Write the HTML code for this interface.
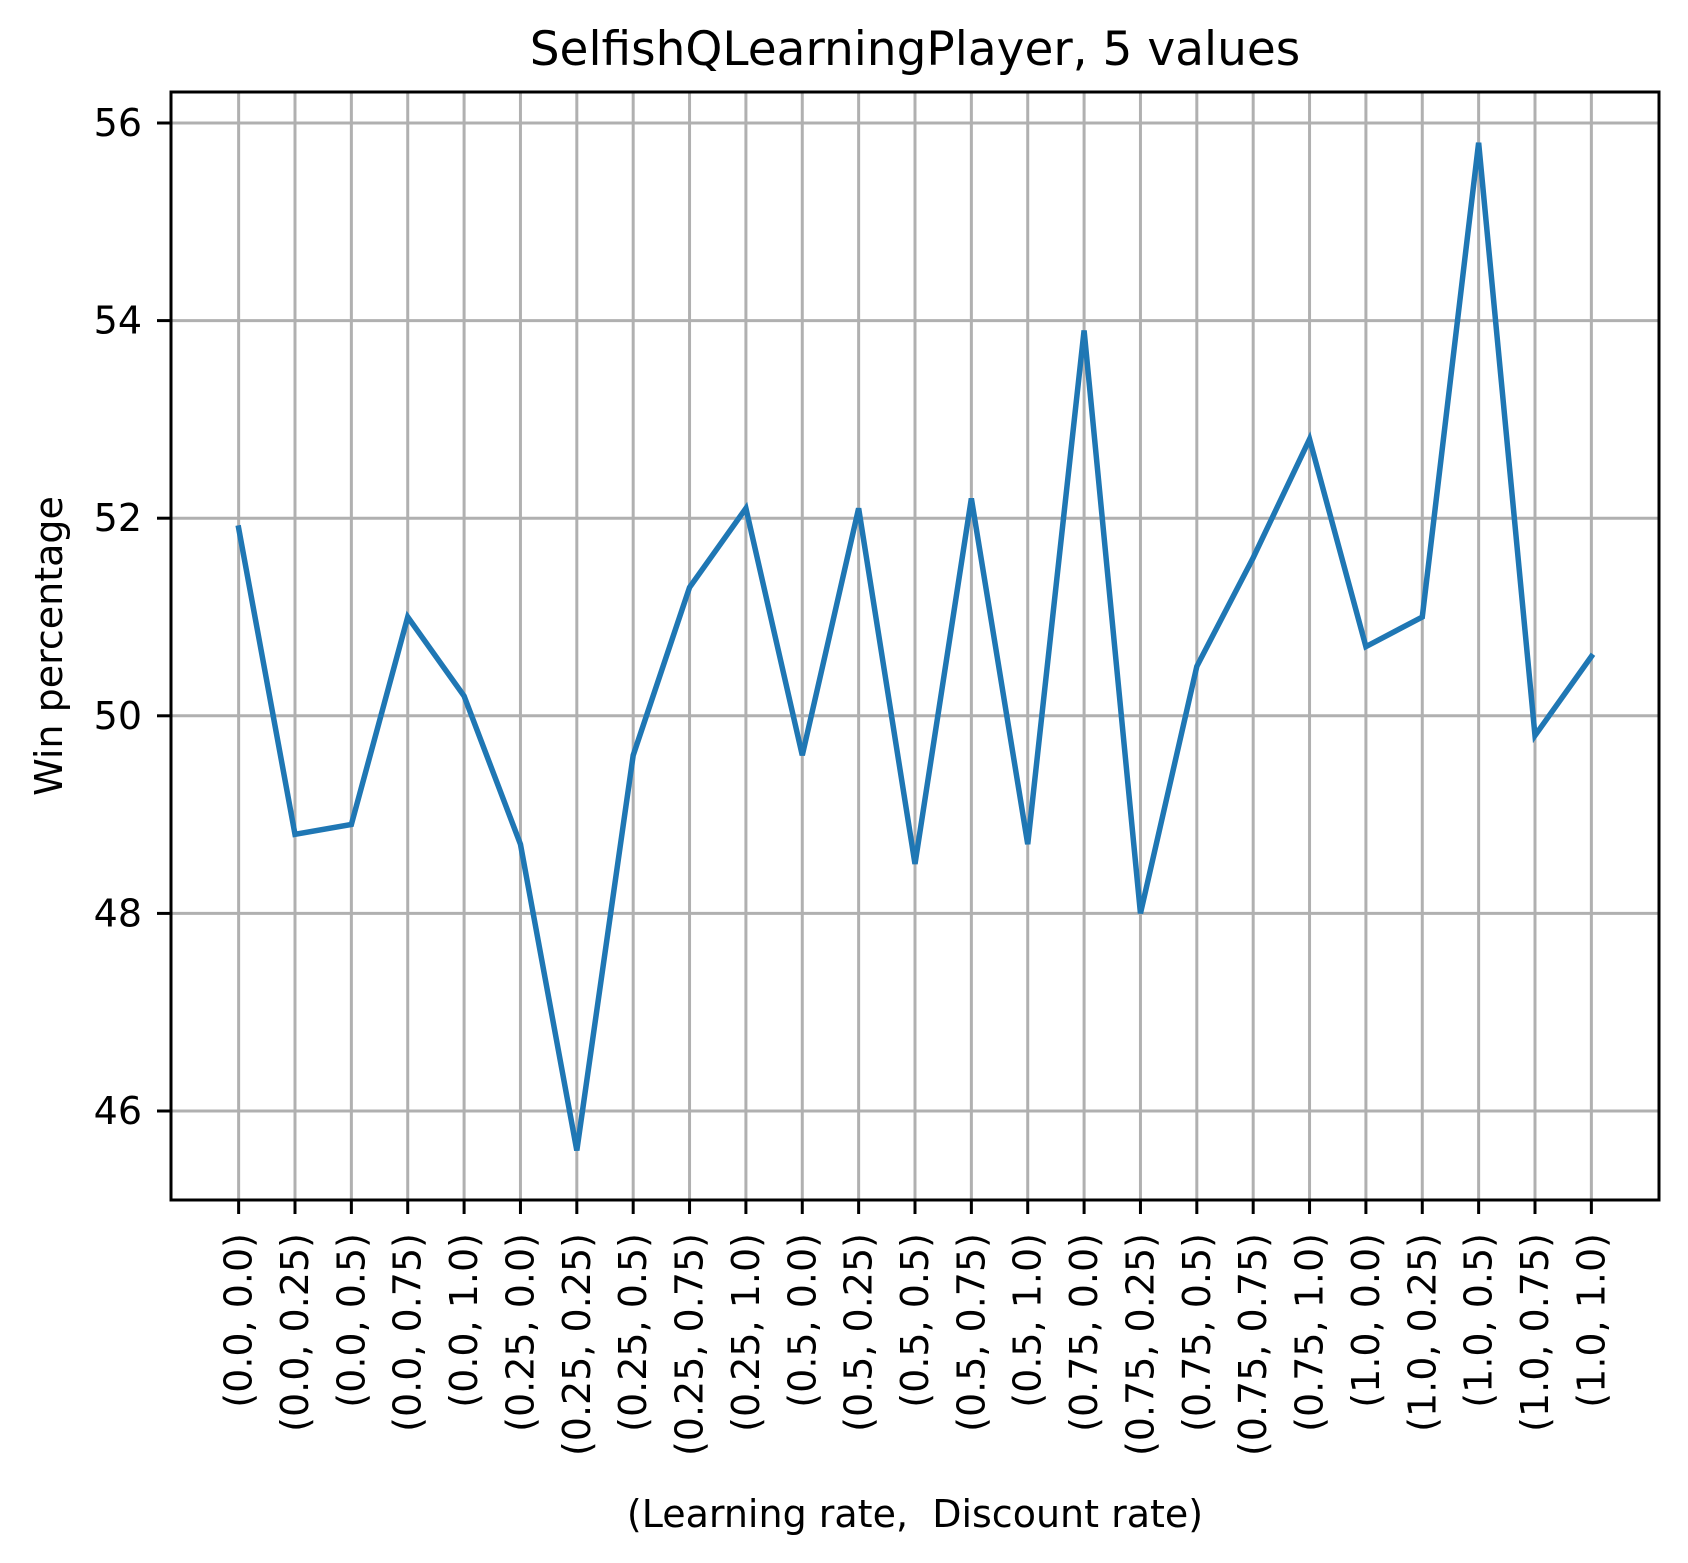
<!DOCTYPE html>
<html><head><meta charset="utf-8"><style>html,body{margin:0;padding:0;background:#fff}svg{display:block}text{font-family:"DejaVu Sans","Liberation Sans",sans-serif;fill:#000}</style></head>
<body>
<svg id="chart" width="1688" height="1563" viewBox="0 0 1688 1563" xmlns="http://www.w3.org/2000/svg">
<rect width="1688" height="1563" fill="#fff"/>
<text x="915" y="65" font-size="47" text-anchor="middle">SelfishQLearningPlayer, 5 values</text>
<g id="grid"></g><g id="series"></g><g id="ticks"></g>
<rect x="171" y="92" width="1488" height="1108" fill="none" stroke="#000" stroke-width="3"/>
<text transform="translate(62,646) rotate(-90)" font-size="38" text-anchor="middle">Win percentage</text>
<text x="915" y="1527" font-size="38" text-anchor="middle" xml:space="preserve">(Learning rate,  Discount rate)</text>
</svg>
<script>
const categories = ["(0.0, 0.0)","(0.0, 0.25)","(0.0, 0.5)","(0.0, 0.75)","(0.0, 1.0)","(0.25, 0.0)","(0.25, 0.25)","(0.25, 0.5)","(0.25, 0.75)","(0.25, 1.0)","(0.5, 0.0)","(0.5, 0.25)","(0.5, 0.5)","(0.5, 0.75)","(0.5, 1.0)","(0.75, 0.0)","(0.75, 0.25)","(0.75, 0.5)","(0.75, 0.75)","(0.75, 1.0)","(1.0, 0.0)","(1.0, 0.25)","(1.0, 0.5)","(1.0, 0.75)","(1.0, 1.0)"];
const winValues = [51.9,48.8,48.9,51.0,50.2,48.7,45.6,49.6,51.3,52.1,49.6,52.1,48.5,52.2,48.7,53.9,48.0,50.5,51.6,52.8,50.7,51.0,55.8,49.8,50.6];
const yTicks = [46,48,50,52,54,56];
const yTickLabels = ["46","48","50","52","54","56"];

const NS="http://www.w3.org/2000/svg";
const L=171,R=1659,T=92,B=1200;
const n=categories.length;
const step=(R-L)/((n-1)*1.1);
function xPos(i){return L+step*(n-1)*0.05+i*step;}
function yPos(v){return 123+(56-v)*98.8;}
function mk(tag,attrs,parent){const e=document.createElementNS(NS,tag);for(const k in attrs)e.setAttribute(k,attrs[k]);parent.appendChild(e);return e;}
const grid=document.getElementById('grid'),ticks=document.getElementById('ticks'),series=document.getElementById('series');
categories.forEach((c,i)=>{
  const x=xPos(i);
  const g=mk('line',{x1:x,x2:x,y1:T,y2:B,stroke:'#b0b0b0','stroke-width':3},grid);
  
  
  const t=mk('line',{x1:x,x2:x,y1:B,y2:B+14,stroke:'#000','stroke-width':3},ticks);
  
  
  const tx=mk('text',{transform:`translate(${x},1233) rotate(-90)`,'font-size':38,'text-anchor':'end','dominant-baseline':'central'},ticks);
  tx.textContent=c;
  
  
});
yTicks.forEach((v,i)=>{
  const y=yPos(v);
  const g=mk('line',{x1:L,x2:R,y1:y,y2:y,stroke:'#b0b0b0','stroke-width':3},grid);
  
  
  const t=mk('line',{x1:L-14,x2:L,y1:y,y2:y,stroke:'#000','stroke-width':3},ticks);
  
  
  const tx=mk('text',{x:142,y:y,'font-size':38,'text-anchor':'end','dominant-baseline':'central'},ticks);
  tx.textContent=yTickLabels[i];
  
  
});
const pts=winValues.map((v,i)=>xPos(i)+','+yPos(v)).join(' ');
const pl=mk('polyline',{points:pts,fill:'none',stroke:'#1f77b4','stroke-width':5.5,'stroke-linejoin':'miter','stroke-linecap':'square'},series);


</script>
</body></html>
